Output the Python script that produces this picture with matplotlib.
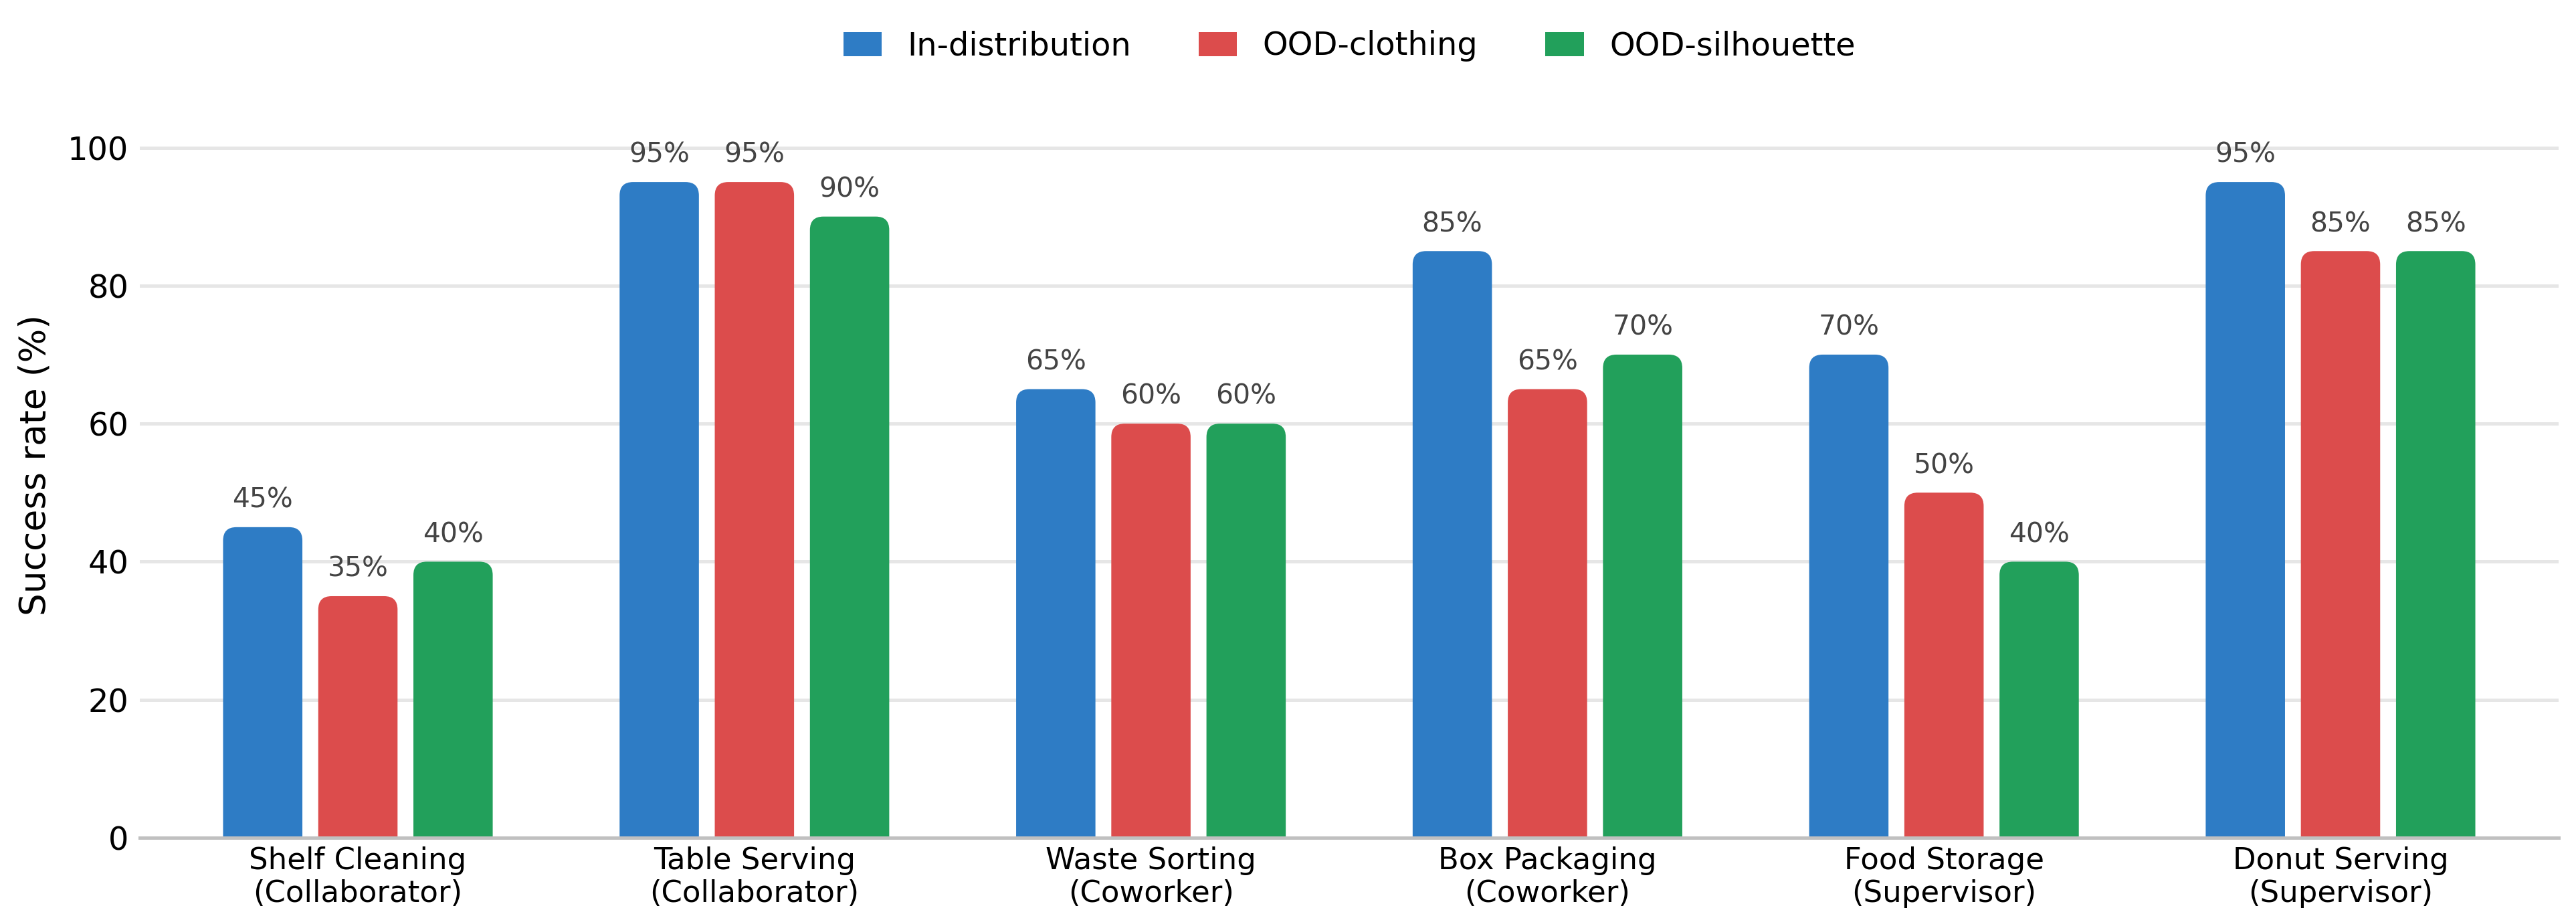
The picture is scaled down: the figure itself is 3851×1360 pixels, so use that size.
import numpy as np
import matplotlib
matplotlib.use("Agg")
import matplotlib.pyplot as plt
from matplotlib.patches import FancyBboxPatch, Patch

# data
tasks = ["Shelf Cleaning\n(Collaborator)", "Table Serving\n(Collaborator)",
         "Waste Sorting\n(Coworker)", "Box Packaging\n(Coworker)",
         "Food Storage\n(Supervisor)", "Donut Serving\n(Supervisor)"]
series_names = ["In-distribution", "OOD-clothing", "OOD-silhouette"]
in_dist = [45, 95, 65, 85, 70, 95]
ood_clothing = [35, 95, 60, 65, 50, 85]
ood_silhouette = [40, 90, 60, 70, 40, 85]
colors = ["#2E7CC5", "#DC4C4C", "#22A05B"]

plt.rcParams['font.family'] = ['DejaVu Sans']

fig = plt.figure(figsize=(3851 / 300, 1360 / 300), dpi=300)
ax = fig.add_axes([209 / 3851, 1 - 1252 / 1360, (3825 - 209) / 3851, (1252 - 138) / 1360])

x = np.arange(len(tasks))
width = 0.2
step = 0.24
ax.set_xlim(-0.55, len(tasks) - 0.45)
ax.set_ylim(0, 108)

# grid
ax.set_yticks([0, 20, 40, 60, 80, 100])
ax.yaxis.grid(True, color="#e6e6e6", linewidth=1.2)
ax.set_axisbelow(True)
for s in ["top", "right", "left"]:
    ax.spines[s].set_visible(False)
ax.spines["bottom"].set_color("#c0c0c0")
ax.spines["bottom"].set_linewidth(1.2)
ax.tick_params(axis="both", length=0)
ax.tick_params(axis="y", labelsize=11.5, pad=4)
ax.tick_params(axis="x", labelsize=10.8, pad=3)
ax.set_xticks(x)
ax.set_xticklabels(tasks)
ax.set_ylabel("Success rate (%)", fontsize=12.8)
ax.yaxis.set_label_coords(-0.036, 0.5)

# rounded top radius in pixels -> data units
fig.canvas.draw()
p0 = ax.transData.transform((0, 0))
p1 = ax.transData.transform((1, 1))
r_px = 20
rx = r_px / (p1[0] - p0[0])
ry = r_px / (p1[1] - p0[1])
asp = ry / rx

all_vals = [in_dist, ood_clothing, ood_silhouette]
for i, (name, vals, c) in enumerate(zip(series_names, all_vals, colors)):
    bars = ax.bar(x + (i - 1) * step, vals, width, color=c, label=name)
    for b, v in zip(bars, vals):
        b.set_visible(False)
        patch = FancyBboxPatch((b.get_x(), -ry), b.get_width(), v + ry,
                               boxstyle=f"round,pad=0,rounding_size={rx}",
                               mutation_aspect=asp, facecolor=c, edgecolor="none",
                               zorder=2)
        ax.add_patch(patch)
        ax.annotate(f"{v}%", (b.get_x() + b.get_width() / 2, v),
                    xytext=(0, 7), textcoords="offset points",
                    ha="center", va="baseline", fontsize=9.8, color="#444444")

handles = [Patch(facecolor=c, edgecolor="none") for c in colors]
fig.legend(handles, series_names, loc="center",
           bbox_to_anchor=((209 + 3825) / 2 / 3851, 1 - 69 / 1360),
           ncol=3, frameon=False, fontsize=11.5, handlelength=1.2, handleheight=0.78,
           handletextpad=0.8, columnspacing=2.1)

fig.savefig("out.png", dpi=300)
